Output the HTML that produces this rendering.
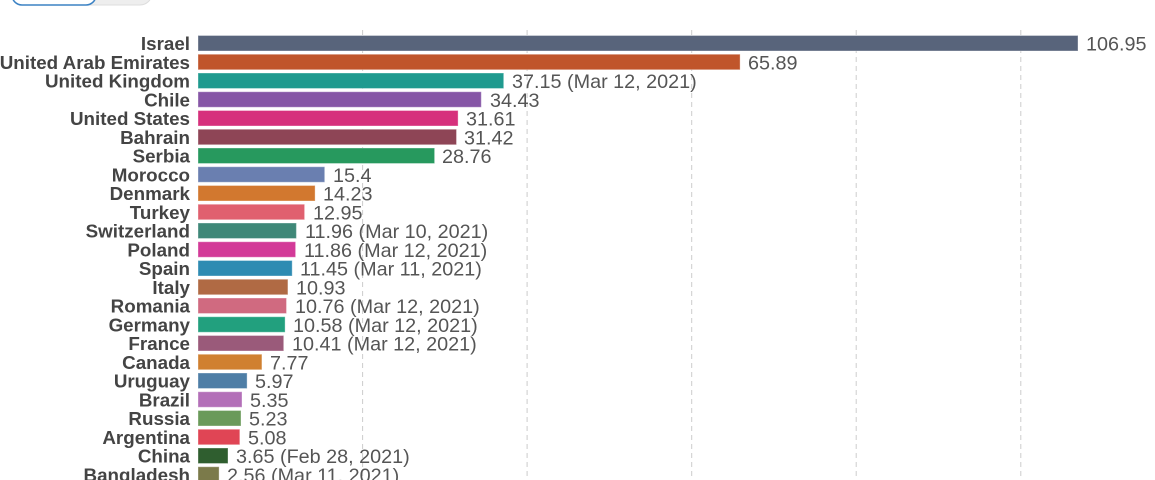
<!DOCTYPE html>
<html><head><meta charset="utf-8"><style>
html,body{margin:0;padding:0;background:#fff;width:1155px;height:480px;overflow:hidden}
svg{display:block}
.l{font:bold 18.8px "Liberation Sans",sans-serif;fill:#444;text-anchor:end}
.v{font:19.8px "Liberation Sans",sans-serif;fill:#555}
rect.b{stroke-opacity:0.35;stroke:#fff;stroke-width:1}
</style></head><body>
<svg width="1155" height="480" viewBox="0 0 1155 480">
<rect x="12" y="-20" width="140" height="25" rx="12" fill="#eee" stroke="#ddd"/>
<rect x="12" y="-20" width="84" height="25" rx="10" fill="#fff" stroke="#3b82c4" stroke-width="1.5"/>
<g stroke="#ccc" stroke-dasharray="5,4" stroke-width="1">
<line x1="362.6" y1="30" x2="362.6" y2="480"/>
<line x1="527.1" y1="30" x2="527.1" y2="480"/>
<line x1="691.7" y1="30" x2="691.7" y2="480"/>
<line x1="856.2" y1="30" x2="856.2" y2="480"/>
<line x1="1020.8" y1="30" x2="1020.8" y2="480"/>
</g>
<g>
<rect class="b" x="198" y="35.5" width="880" height="15.5" fill="#58647b"/>
<rect class="b" x="198" y="54.25" width="542.1" height="15.5" fill="#c0552b"/>
<rect class="b" x="198" y="73" width="305.7" height="15.5" fill="#1f9a8f"/>
<rect class="b" x="198" y="91.75" width="283.3" height="15.5" fill="#8656a6"/>
<rect class="b" x="198" y="110.5" width="260.1" height="15.5" fill="#d6307c"/>
<rect class="b" x="198" y="129.25" width="258.5" height="15.5" fill="#8e4556"/>
<rect class="b" x="198" y="148" width="236.6" height="15.5" fill="#27995e"/>
<rect class="b" x="198" y="166.75" width="126.7" height="15.5" fill="#6a7fb0"/>
<rect class="b" x="198" y="185.5" width="117.1" height="15.5" fill="#d2782f"/>
<rect class="b" x="198" y="204.25" width="106.6" height="15.5" fill="#e0606f"/>
<rect class="b" x="198" y="223" width="98.4" height="15.5" fill="#3f8878"/>
<rect class="b" x="198" y="241.75" width="97.6" height="15.5" fill="#d33a98"/>
<rect class="b" x="198" y="260.5" width="94.2" height="15.5" fill="#2e8bb2"/>
<rect class="b" x="198" y="279.25" width="89.9" height="15.5" fill="#b06a44"/>
<rect class="b" x="198" y="298" width="88.5" height="15.5" fill="#d06a80"/>
<rect class="b" x="198" y="316.75" width="87.1" height="15.5" fill="#22a07e"/>
<rect class="b" x="198" y="335.5" width="85.7" height="15.5" fill="#9a5a7a"/>
<rect class="b" x="198" y="354.25" width="63.9" height="15.5" fill="#d08030"/>
<rect class="b" x="198" y="373" width="49.1" height="15.5" fill="#4e7ea6"/>
<rect class="b" x="198" y="391.75" width="44" height="15.5" fill="#b36fb8"/>
<rect class="b" x="198" y="410.5" width="43" height="15.5" fill="#6a9a5a"/>
<rect class="b" x="198" y="429.25" width="41.8" height="15.5" fill="#e04555"/>
<rect class="b" x="198" y="448" width="30" height="15.5" fill="#2f5e2f"/>
<rect class="b" x="198" y="466.75" width="21.1" height="15.5" fill="#7b7a4a"/>
</g>
<g>
<text class="l" x="190" y="50">Israel</text>
<text class="l" x="190" y="68.75">United Arab Emirates</text>
<text class="l" x="190" y="87.5">United Kingdom</text>
<text class="l" x="190" y="106.25">Chile</text>
<text class="l" x="190" y="125">United States</text>
<text class="l" x="190" y="143.75">Bahrain</text>
<text class="l" x="190" y="162.5">Serbia</text>
<text class="l" x="190" y="181.25">Morocco</text>
<text class="l" x="190" y="200">Denmark</text>
<text class="l" x="190" y="218.75">Turkey</text>
<text class="l" x="190" y="237.5">Switzerland</text>
<text class="l" x="190" y="256.25">Poland</text>
<text class="l" x="190" y="275">Spain</text>
<text class="l" x="190" y="293.75">Italy</text>
<text class="l" x="190" y="312.5">Romania</text>
<text class="l" x="190" y="331.25">Germany</text>
<text class="l" x="190" y="350">France</text>
<text class="l" x="190" y="368.75">Canada</text>
<text class="l" x="190" y="387.5">Uruguay</text>
<text class="l" x="190" y="406.25">Brazil</text>
<text class="l" x="190" y="425">Russia</text>
<text class="l" x="190" y="443.75">Argentina</text>
<text class="l" x="190" y="462.5">China</text>
<text class="l" x="190" y="481.25">Bangladesh</text>
</g>
<g>
<text class="v" x="1086" y="50.5">106.95</text>
<text class="v" x="748" y="69.25">65.89</text>
<text class="v" x="512" y="88">37.15 (Mar 12, 2021)</text>
<text class="v" x="490" y="106.75">34.43</text>
<text class="v" x="466" y="125.5">31.61</text>
<text class="v" x="464" y="144.25">31.42</text>
<text class="v" x="442" y="163">28.76</text>
<text class="v" x="333" y="181.75">15.4</text>
<text class="v" x="323" y="200.5">14.23</text>
<text class="v" x="313" y="219.25">12.95</text>
<text class="v" x="305" y="238">11.96 (Mar 10, 2021)</text>
<text class="v" x="304" y="256.75">11.86 (Mar 12, 2021)</text>
<text class="v" x="300" y="275.5">11.45 (Mar 11, 2021)</text>
<text class="v" x="296" y="294.25">10.93</text>
<text class="v" x="295" y="313">10.76 (Mar 12, 2021)</text>
<text class="v" x="293" y="331.75">10.58 (Mar 12, 2021)</text>
<text class="v" x="292" y="350.5">10.41 (Mar 12, 2021)</text>
<text class="v" x="270" y="369.25">7.77</text>
<text class="v" x="255" y="388">5.97</text>
<text class="v" x="250" y="406.75">5.35</text>
<text class="v" x="249" y="425.5">5.23</text>
<text class="v" x="248" y="444.25">5.08</text>
<text class="v" x="236" y="463">3.65 (Feb 28, 2021)</text>
<text class="v" x="227" y="481.75">2.56 (Mar 11, 2021)</text>
</g>
</svg>
</body></html>
